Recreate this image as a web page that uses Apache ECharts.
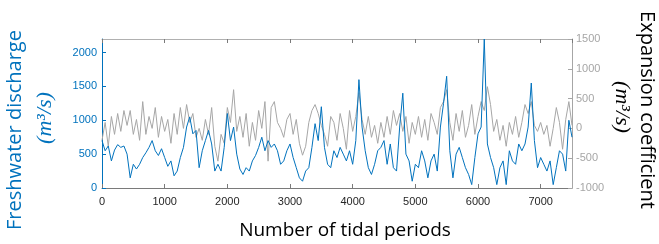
<!DOCTYPE html>
<html>
<head>
<meta charset="utf-8">
<script src="https://cdn.jsdelivr.net/npm/echarts@6/dist/echarts.min.js"></script>
<style>
  html, body { margin: 0; padding: 0; background: #fff; }
  #chart { width: 659px; height: 244px; }
</style>
</head>
<body>
<div id="chart"></div>
<script>
// 采样间隔 (tidal periods)
var step = 50;

// 淡水流量 (m^3/s), left axis
var discharge = [
  700, 550, 620, 400, 560, 640, 600, 620, 500, 150, 350, 280, 350, 450, 520, 600, 700, 550, 480, 580, 450, 320, 400, 180, 250, 450, 600, 900, 1050, 800,
  850, 300, 550, 700, 850, 650, 250, 350, 250, 600, 1100, 700, 900, 500, 280, 200, 300, 250, 400, 480, 600, 750, 550, 700, 600, 650, 550, 350, 400, 550,
  650, 450, 300, 150, 100, 250, 300, 600, 950, 700, 1200, 600, 350, 300, 550, 450, 600, 500, 400, 550, 350, 700, 1600, 900, 550, 300, 200, 350, 550, 600,
  700, 350, 650, 300, 250, 900, 1400, 500, 400, 100, 350, 300, 550, 400, 150, 400, 500, 250, 900, 1250, 1650, 550, 150, 500, 600, 450, 300, 200, 50, 450,
  800, 900, 2200, 650, 450, 300, 50, 300, 400, 50, 550, 400, 350, 650, 550, 650, 900, 1550, 700, 300, 450, 350, 250, 400, 50, 300, 550, 500, 250, 1000, 750
];

// 膨胀系数 (m^3/s), right axis
var expansion = [
  -200, 100, -300, 200, -100, 250, -50, 300, 50, 300, -100, 150, -200, 450, -100, 200, 0, 350, -150, 200, -50, 150, -250, 250, -100, 350, 0, 400, 100, 250,
  -150, 0, -200, 150, -100, 350, -300, -550, -100, -250, 350, 100, 650, -50, 200, -150, 250, -300, 100, -200, 300, 0, 450, -550, 350, 450, 100, 0, -150, 150,
  250, -100, 150, -250, -450, -300, 100, 300, 400, 250, 50, -100, -300, 200, 100, -200, 250, 0, -350, 300, -50, 200, 600, 150, -100, 200, -150, 50, -250, 100,
  -150, 200, -100, 300, 50, 250, -50, 200, -250, 100, -100, 200, -150, 150, -200, 250, 100, -100, 350, 450, 650, 100, -200, 250, -50, 300, -150, 50, 400, -100,
  200, 450, 300, 700, 400, -50, 150, -200, 50, -300, 100, -100, 200, -150, 100, 400, 250, 450, 50, -50, 100, -100, 50, -300, 0, 350, 100, -350, 150, 450, 50
];

var xTicks = [0, 7500, 1000];      // min, max, interval
var leftTicks = [0, 2200, 500];
var rightTicks = [-1000, 1500, 500];

var blue = '#0072BD';
var grey = '#a6a6a6';

function pairs(values){
    return values.map(function(v, i){ return [i * step, v]; });
}
function plain(v){ return String(v); }

var myChart = echarts.init(document.getElementById('chart'));
var tickFont = { fontFamily: 'Liberation Sans', fontSize: 11, formatter: plain };

var option = {
    animation: false,
    grid: { left: 102, right: 87, top: 39, bottom: 56 },
    xAxis: [{
        type: 'value',
        min: xTicks[0], max: xTicks[1], interval: xTicks[2],
        axisLine: { onZero: false, lineStyle: { color: '#7a7a7a', width: 1 } },
        axisTick: { inside: true, length: 4, lineStyle: { color: '#7a7a7a' } },
        axisLabel: Object.assign({ color: '#262626', margin: 8, showMaxLabel: false }, tickFont),
        splitLine: { show: false }
    }, {
        type: 'value', position: 'top',
        min: xTicks[0], max: xTicks[1], interval: xTicks[2],
        axisLine: { onZero: false, lineStyle: { color: '#b0b0b0', width: 1 } },
        axisTick: { inside: true, length: 4, lineStyle: { color: '#7a7a7a' } },
        axisLabel: { show: false },
        splitLine: { show: false }
    }],
    yAxis: [{
        type: 'value',
        min: leftTicks[0], max: leftTicks[1], interval: leftTicks[2],
        axisLine: { show: true, onZero: false, lineStyle: { color: blue, width: 1 } },
        axisTick: { show: true, inside: true, length: 4, lineStyle: { color: blue } },
        axisLabel: Object.assign({ color: blue, margin: 5, showMaxLabel: false }, tickFont),
        splitLine: { show: false }
    }, {
        type: 'value', position: 'right',
        min: rightTicks[0], max: rightTicks[1], interval: rightTicks[2],
        axisLine: { show: true, onZero: false, lineStyle: { color: grey, width: 1 } },
        axisTick: { show: true, inside: true, length: 4, lineStyle: { color: grey } },
        axisLabel: Object.assign({ color: grey, margin: 4 }, tickFont),
        splitLine: { show: false }
    }],
    series: [{
        name: 'Expansion coefficient',
        type: 'line',
        yAxisIndex: 1,
        data: pairs(expansion),
        showSymbol: false,
        lineStyle: { color: grey, width: 1 },
        z: 2
    }, {
        name: 'Freshwater discharge',
        type: 'line',
        yAxisIndex: 0,
        data: pairs(discharge),
        showSymbol: false,
        lineStyle: { color: blue, width: 1 },
        z: 3
    }],
    graphic: [{
        type: 'text', x: 15, y: 130, rotation: Math.PI / 2,
        style: { text: 'Freshwater discharge', fill: blue, font: '20px "Open Sans"', align: 'center', verticalAlign: 'middle' }
    }, {
        type: 'text', x: 45, y: 118, rotation: Math.PI / 2,
        style: { text: '(m³/s)', fill: blue, font: 'italic 22px "Liberation Serif"', align: 'center', verticalAlign: 'middle' }
    }, {
        type: 'text', x: 647, y: 110, rotation: -Math.PI / 2,
        style: { text: 'Expansion coefficient', fill: '#000', font: '20px "Open Sans"', align: 'center', verticalAlign: 'middle' }
    }, {
        type: 'text', x: 622, y: 107, rotation: -Math.PI / 2,
        style: { text: '(m³/s)', fill: '#000', font: 'italic 22px "Liberation Serif"', align: 'center', verticalAlign: 'middle' }
    }, {
        type: 'text', x: 345, y: 231,
        style: { text: 'Number of tidal periods', fill: '#000', font: '19px "Open Sans"', align: 'center', verticalAlign: 'middle' }
    }]
};

myChart.setOption(option);
</script>
</body>
</html>
